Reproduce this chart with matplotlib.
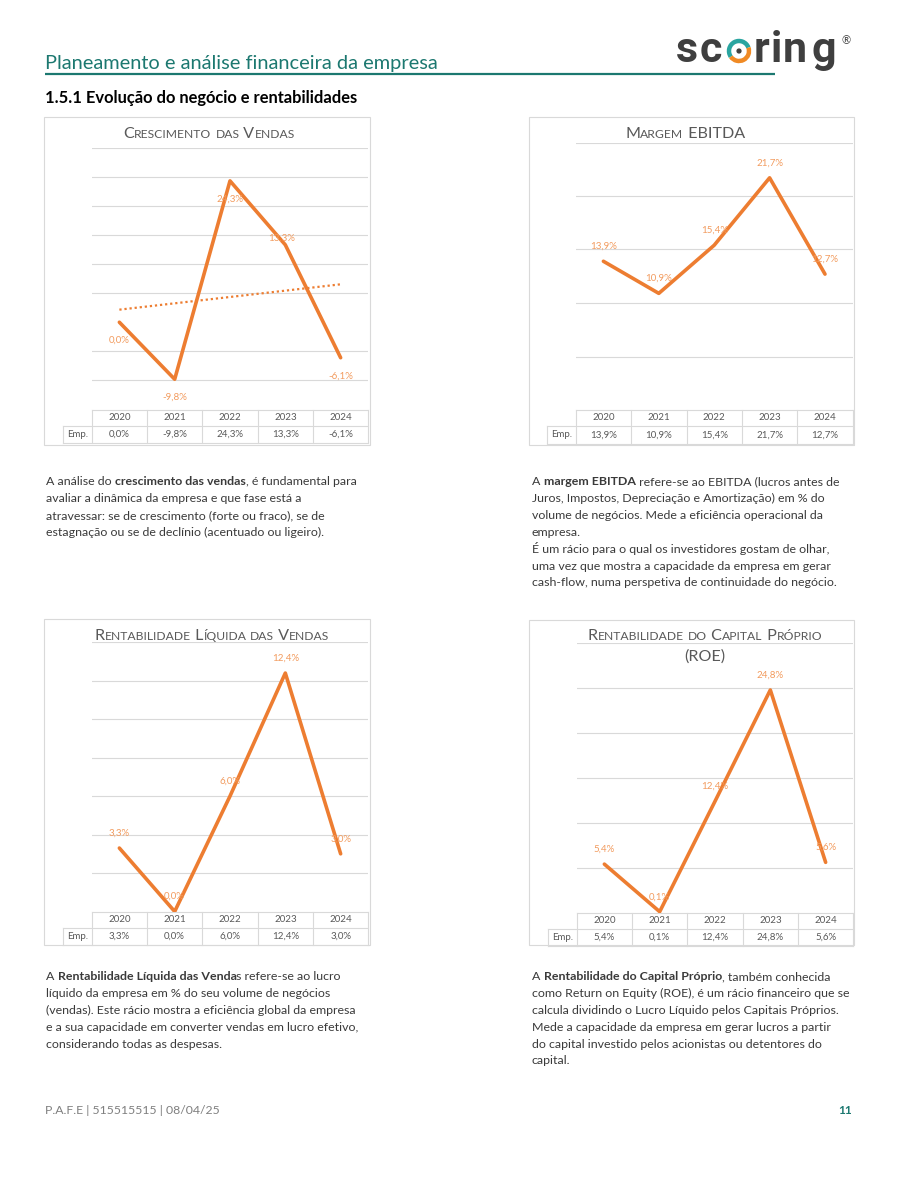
import numpy as np
import matplotlib
matplotlib.use("Agg")
import matplotlib.pyplot as plt
from matplotlib.patches import Rectangle, Arc, Circle
from matplotlib.font_manager import FontProperties

FONT = ["Lato", "DejaVu Sans"]
plt.rcParams["font.family"] = FONT

# ---- data ----
years = ["2020", "2021", "2022", "2023", "2024"]
row_label = "Emp."

crescimento_vendas = [0.0, -9.8, 24.3, 13.3, -6.1]
margem_ebitda = [13.9, 10.9, 15.4, 21.7, 12.7]
rent_liquida = [3.3, 0.0, 6.0, 12.4, 3.0]
rent_capital = [5.4, 0.1, 12.4, 24.8, 5.6]

chart_titles = [
    ["Crescimento das Vendas"],
    ["Margem EBITDA"],
    ["Rentabilidade Líquida das Vendas"],
    ["Rentabilidade do Capital Próprio", "(ROE)"],
]

page_title = "Planeamento e análise financeira da empresa"
section_title = "1.5.1 Evolução do negócio e rentabilidades"
footer_text = "P.A.F.E | 515515515 | 08/04/25"
page_number = "11"

texts = [
    ["A análise do **crescimento das vendas**, é fundamental para",
     "avaliar a dinâmica da empresa e que fase está a",
     "atravessar: se de crescimento (forte ou fraco), se de",
     "estagnação ou se de declínio (acentuado ou ligeiro)."],
    ["A **margem EBITDA** refere-se ao EBITDA (lucros antes de",
     "Juros, Impostos, Depreciação e Amortização) em % do",
     "volume de negócios. Mede a eficiência operacional da",
     "empresa.",
     "É um rácio para o qual os investidores gostam de olhar,",
     "uma vez que mostra a capacidade da empresa em gerar",
     "cash-flow, numa perspetiva de continuidade do negócio."],
    ["A **Rentabilidade Líquida das Venda**s refere-se ao lucro",
     "líquido da empresa em % do seu volume de negócios",
     "(vendas). Este rácio mostra a eficiência global da empresa",
     "e a sua capacidade em converter vendas em lucro efetivo,",
     "considerando todas as despesas."],
    ["A **Rentabilidade do Capital Próprio**, também conhecida",
     "como Return on Equity (ROE), é um rácio financeiro que se",
     "calcula dividindo o Lucro Líquido pelos Capitais Próprios.",
     "Mede a capacidade da empresa em gerar lucros a partir",
     "do capital investido pelos acionistas ou detentores do",
     "capital."],
]

series = [crescimento_vendas, margem_ebitda, rent_liquida, rent_capital]

# ---- layout (pixels) ----
layout = [
    dict(box=(43.5, 117, 369.5, 444.5), plot=(91.7, 147.7, 368.3, 409.5), ylim=(-15, 30),
         grid=[-10, -5, 5, 10, 15, 20, 25, 30], title_y=[137.5], title_x=209,
         lab_dy=[18, 18, 18, -7, 18], lab_dx=[0, 0, 0, -4, 0], trend=True, text_xy=(46, 485)),
    dict(box=(528.5, 117, 853.5, 444.5), plot=(575.7, 142.5, 852.7, 410), ylim=(0, 25),
         grid=[5, 10, 15, 20, 25], title_y=[137.5], title_x=685,
         lab_dy=[-15] * 5, lab_dx=[0] * 5, trend=False, text_xy=(532, 485)),
    dict(box=(44, 618.5, 369.5, 945), plot=(91.7, 642.3, 368.3, 911.5), ylim=(0, 14),
         grid=[2, 4, 6, 8, 10, 12, 14], title_y=[640], title_x=212,
         lab_dy=[-15] * 5, lab_dx=[0] * 5, trend=False, text_xy=(46, 980)),
    dict(box=(529, 619.5, 854, 945), plot=(576.7, 643.3, 853.3, 912.6), ylim=(0, 30),
         grid=[5, 10, 15, 20, 25, 30], title_y=[639.5, 661], title_x=705,
         lab_dy=[-15] * 5, lab_dx=[0] * 5, trend=False, text_xy=(532, 980)),
]
LINE_STEP = 16.9

ORANGE = "#ED7D31"
LABEL = "#F29B5E"
GRID = "#D9D9D9"
TEAL = "#1C7870"
GREY = "#595959"
BODY = "#3A3A3A"

W, H = 900, 1200
fig = plt.figure(figsize=(9, 12), dpi=100)
renderer = fig.canvas.get_renderer()

page = fig.add_axes([0, 0, 1, 1])
page.set_xlim(0, W)
page.set_ylim(H, 0)
page.axis("off")


def text_w(s, size, weight="normal"):
    fp = FontProperties(family=FONT, size=size, weight=weight)
    w1, _, _ = renderer.get_text_width_height_descent("|" + s + "|", fp, ismath=False)
    w0, _, _ = renderer.get_text_width_height_descent("||", fp, ismath=False)
    return w1 - w0


def small_caps(cx, y, s, big, small, color):
    runs = []
    for ch in s:
        size = small if ch.islower() else big
        if runs and runs[-1][1] == size:
            runs[-1][0] += ch.upper()
        else:
            runs.append([ch.upper(), size])
    total = sum(text_w(r, sz) for r, sz in runs)
    x = cx - total / 2
    for r, sz in runs:
        page.text(x, y, r, fontsize=sz, color=color, ha="left", va="baseline")
        x += text_w(r, sz)


def rich_line(x, y, line, size, color):
    parts = line.split("**")
    for i, p in enumerate(parts):
        if not p:
            continue
        wt = "bold" if i % 2 else "normal"
        page.text(x, y, p, fontsize=size, fontweight=wt, color=color, ha="left", va="baseline")
        x += text_w(p, size, wt)


def pct(v):
    return f"{v:.1f}".replace(".", ",") + "%"


# ---- header ----
page.text(45, 69, page_title, fontsize=14.4, color=TEAL, ha="left", va="baseline")
page.plot([45, 775], [74, 74], color=TEAL, lw=1.6, solid_capstyle="butt")
page.text(45, 103, section_title, fontsize=11.9, fontweight="bold", color="#000000",
          ha="left", va="baseline")

# logo
logo_letters = [("s", 687), ("c", 711), ("r", 762), ("i", 776), ("n", 795), ("g", 824)]
for ch, lx in logo_letters:
    page.text(lx, 62, ch, fontsize=31, fontweight="bold", color="#3F3F3F",
              family=["Roboto", "DejaVu Sans"], ha="center", va="baseline")
page.add_patch(Arc((739, 51), 20, 20, theta1=-215, theta2=-20, color="#2AA5A0", lw=3.2))
page.add_patch(Arc((739, 51), 20, 20, theta1=-20, theta2=145, color="#F08A24", lw=3.2))
page.add_patch(Circle((739, 51), 1.9, color="#3F3F3F"))
page.text(846, 44, "®", fontsize=8, color="#3F3F3F", ha="center", va="baseline")

# ---- charts ----
for k, (vals, lay) in enumerate(zip(series, layout)):
    bx0, by0, bx1, by1 = lay["box"]
    page.add_patch(Rectangle((bx0, by0), bx1 - bx0, by1 - by0, fill=False,
                             edgecolor=GRID, lw=0.8))
    px0, py0, px1, py1 = lay["plot"]
    ax = fig.add_axes([px0 / W, 1 - py1 / H, (px1 - px0) / W, (py1 - py0) / H])
    ax.set_facecolor("none")
    for sp in ax.spines.values():
        sp.set_visible(False)
    ax.set_xlim(-0.5, 4.5)
    ax.set_ylim(*lay["ylim"])
    ax.set_yticks(lay["grid"])
    ax.set_xticks([])
    ax.tick_params(left=False, labelleft=False)
    ax.grid(axis="y", color=GRID, lw=0.8)
    ax.set_axisbelow(True)

    x = np.arange(len(vals))
    if lay["trend"]:
        coef = np.polyfit(x, vals, 1)
        ax.plot(x, np.polyval(coef, x), color=ORANGE, lw=1.6, ls=(0, (1, 1.3)))
    ax.plot(x, vals, color=ORANGE, lw=2.6, solid_joinstyle="round", solid_capstyle="round")
    for i, v in enumerate(vals):
        ax.annotate(pct(v), (i, v), xytext=(lay["lab_dx"][i] * 0.72, -lay["lab_dy"][i] * 0.72),
                    textcoords="offset points", ha="center", va="center",
                    fontsize=7, color=LABEL, annotation_clip=False)

    # title
    for line, ty in zip(chart_titles[k], lay["title_y"]):
        small_caps(lay["title_x"], ty, line, 11.6, 8.7, GREY)

    # data table
    cw = (px1 - px0) / len(years)
    t0, t1, t2 = py1, py1 + 16, py1 + 33.5
    ex = px0 - 28.5
    page.plot([px0, px1], [t0, t0], color=GRID, lw=0.8)
    page.plot([ex, px1], [t1, t1], color=GRID, lw=0.8)
    page.plot([ex, px1], [t2, t2], color=GRID, lw=0.8)
    page.plot([ex, ex], [t1, t2], color=GRID, lw=0.8)
    for j in range(len(years) + 1):
        page.plot([px0 + j * cw] * 2, [t0, t2], color=GRID, lw=0.8)
    page.text((ex + px0) / 2, (t1 + t2) / 2, row_label, fontsize=7, color=GREY,
              ha="center", va="center")
    for j, (yr, v) in enumerate(zip(years, vals)):
        cx = px0 + (j + 0.5) * cw
        page.text(cx, (t0 + t1) / 2, yr, fontsize=7, color=GREY, ha="center", va="center")
        page.text(cx, (t1 + t2) / 2, pct(v), fontsize=7, color=GREY, ha="center", va="center")

    # description text
    tx, ty = lay["text_xy"]
    for n, line in enumerate(texts[k]):
        rich_line(tx, ty + n * LINE_STEP, line, 8.9, BODY)

# ---- footer ----
page.text(45, 1114, footer_text, fontsize=8.8, color="#7F7F7F", ha="left", va="baseline")
page.text(852, 1114, page_number, fontsize=8.6, fontweight="bold", color=TEAL,
          ha="right", va="baseline")

fig.savefig("out.png", dpi=100, facecolor="white")
